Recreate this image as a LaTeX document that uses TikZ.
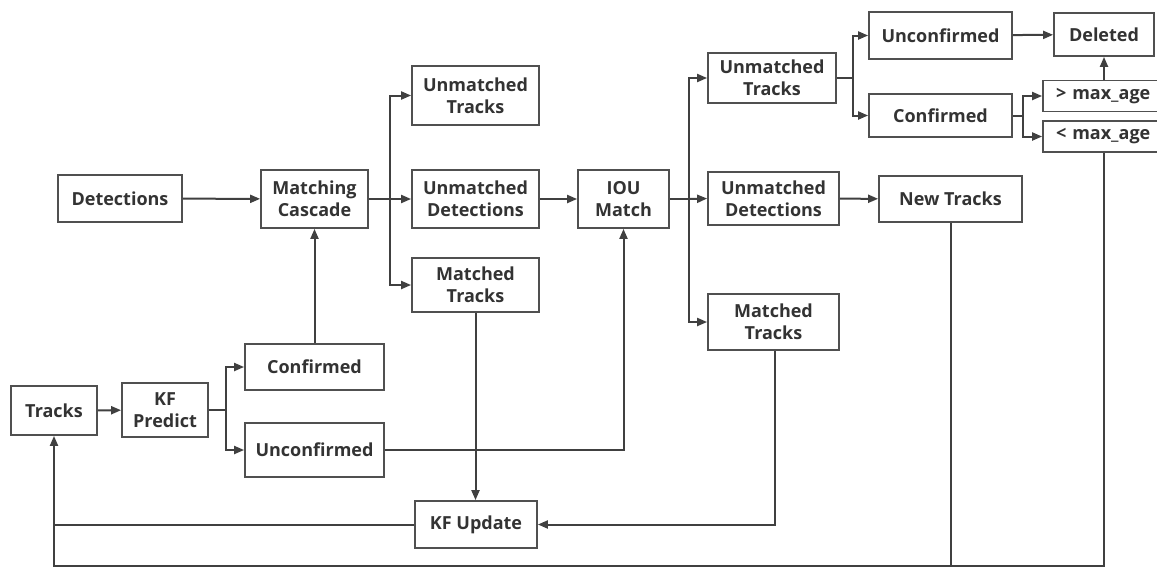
\documentclass[tikz,border=0pt]{standalone}
\usepackage{fontspec}
\setmainfont{Open Sans}
\usetikzlibrary{arrows.meta}
\definecolor{lncol}{HTML}{404040}
\definecolor{bxcol}{HTML}{505050}
\definecolor{tx}{HTML}{333333}
\begin{document}
\begin{tikzpicture}[x=1pt,y=-1pt,
  box/.style={draw=bxcol,line width=1.8pt,fill=white,inner sep=0pt,align=center,text=tx,
    font=\fontsize{18}{22}\selectfont\bfseries},
  arr/.style={draw=lncol,line width=2pt,-{Triangle[length=10pt,width=8pt]}},
  plain/.style={draw=lncol,line width=2pt}]
\useasboundingbox[fill=white] (0,0) rectangle (1157,568);
\begin{scope}
\clip (0,0) rectangle (1157,568);
% nodes
\node[box,minimum width=124pt,minimum height=47pt] (det) at (120,198.5) {Detections};
\node[box,minimum width=107pt,minimum height=58pt] (mc) at (314.5,199) {Matching\\Cascade};
\node[box,minimum width=139pt,minimum height=46pt] (conf1) at (314.5,367) {Confirmed};
\node[box,minimum width=86pt,minimum height=49pt] (tracks) at (54,410.5) {Tracks};
\node[box,minimum width=86pt,minimum height=54pt] (kfp) at (165,410) {KF\\Predict};
\node[box,minimum width=139pt,minimum height=54pt] (unc1) at (314.5,450) {Unconfirmed};
\node[box,minimum width=122pt,minimum height=47pt] (kfu) at (476,524.5) {KF Update};
\node[box,minimum width=127pt,minimum height=59pt] (ut1) at (475.5,95.5) {Unmatched\\Tracks};
\node[box,minimum width=127pt,minimum height=58pt] (ud1) at (475.5,199) {Unmatched\\Detections};
\node[box,minimum width=127pt,minimum height=54pt] (mt1) at (475.5,285) {Matched\\Tracks};
\node[box,minimum width=91pt,minimum height=58pt] (iou) at (623.5,199) {IOU\\Match};
\node[box,minimum width=128pt,minimum height=50pt] (ut2) at (772,78) {Unmatched\\Tracks};
\node[box,minimum width=131pt,minimum height=53pt] (ud2) at (773.5,198.5) {Unmatched\\Detections};
\node[box,minimum width=131pt,minimum height=56pt] (mt2) at (773.5,322) {Matched\\Tracks};
\node[box,minimum width=143pt,minimum height=47pt] (unc2) at (940.5,35.5) {Unconfirmed};
\node[box,minimum width=100pt,minimum height=43pt] (del) at (1104,34.5) {Deleted};
\node[box,minimum width=143pt,minimum height=43pt] (conf2) at (940.5,115.5) {Confirmed};
\node[box,minimum width=120pt,minimum height=31pt,text width=112pt,align=left] (gt) at (1103,96) {\hspace*{9pt}> max\_age};
\node[box,minimum width=120pt,minimum height=31pt,text width=112pt,align=left] (lt) at (1103,136.5) {\hspace*{9pt}< max\_age};
\node[box,minimum width=143pt,minimum height=46pt] (nt) at (950.5,199) {New Tracks};
% branch coordinates
\coordinate (b1) at (390,199);
\coordinate (b2) at (226,410);
\coordinate (b3) at (689,199);
\coordinate (b4) at (853,78);
\coordinate (b5) at (1023,115.5);
\coordinate (bl) at (54,566);
\coordinate (br) at (1104,566);
% connectors
\draw[arr] (det) -- (mc);
\draw[plain] (mc.east) -- (b1);
\draw[arr] (b1) |- (ut1.west);
\draw[arr] (b1) -- (ud1.west);
\draw[arr] (b1) |- (mt1.west);
\draw[arr] (conf1.north) -- (mc.south);
\draw[arr] (tracks) -- (kfp);
\draw[plain] (kfp.east) -- (b2);
\draw[arr] (b2) |- (conf1.west);
\draw[arr] (b2) |- (unc1.west);
\draw[arr] (unc1.east) -| (iou.south);
\draw[arr] (ud1) -- (iou);
\draw[arr] (mt1.south) -- (mt1.south |- kfu.north);
\draw[plain] (iou.east) -- (b3);
\draw[arr] (b3) |- (ut2.west);
\draw[arr] (b3) -- (ud2.west);
\draw[arr] (b3) |- (mt2.west);
\draw[arr] ([xshift=1.5pt]mt2.south) |- (kfu.east);
\draw[arr] (kfu.west) -| (tracks.south);
\draw[arr] (ud2) -- (nt);
\draw[plain] (ut2.east) -- (b4);
\draw[arr] (b4) |- (unc2.west);
\draw[arr] (b4) |- (conf2.west);
\draw[arr] (unc2) -- (del);
\draw[plain] (conf2.east) -- (b5);
\draw[arr] (b5) |- (gt.west);
\draw[arr] (b5) |- (lt.west);
\draw[arr] (del.south |- gt.north) -- (del.south);
\draw[plain] (del.south |- lt.south) -- (br) -- (bl) -- (tracks.south |- kfu.west);
\draw[plain] (nt.south) -- (nt.south |- bl);
\end{scope}
\end{tikzpicture}
\end{document}
